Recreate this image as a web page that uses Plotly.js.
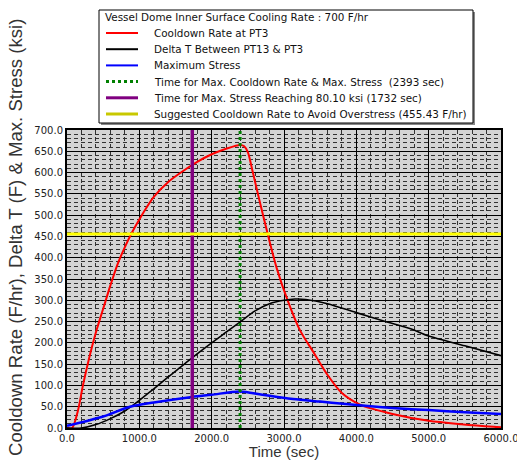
<!DOCTYPE html>
<html>
<head>
<meta charset="utf-8">
<script src="https://cdn.plot.ly/plotly-3.0.1.min.js"></script>
<style>html,body{margin:0;padding:0;background:#fff;}#chart{width:517px;height:460px;}</style>
</head>
<body>
<div id="chart"></div>
<script>
// Cooldown Rate at PT3
var rateTime = [0, 70, 150, 220, 300, 400, 500, 600, 700, 800, 900, 1000, 1100, 1200, 1400, 1600, 1800, 2000, 2200, 2393, 2450, 2500, 2570, 2670, 2780, 2900, 3050, 3220, 3400, 3600, 3800, 4050, 4500, 5000, 5450, 5900, 6000];
var rateVals = [0, 0, 40, 100, 160, 225, 280, 335, 385, 425, 460, 490, 518, 543, 578, 603, 625, 643, 656, 665, 662, 648, 600, 528, 452, 375, 300, 230, 180, 125, 82, 55, 33, 17, 9, 3, 2];
// Delta T Between PT13 & PT3
var deltaTime = [0, 200, 400, 600, 800, 900, 1000, 1200, 1400, 1600, 1730, 2000, 2200, 2400, 2600, 2800, 3000, 3150, 3300, 3600, 4000, 4400, 4750, 5000, 5500, 6000];
var deltaVals = [0, 0, 8, 22, 40, 52, 65, 92, 120, 147, 165, 200, 225, 250, 275, 292, 300, 303, 302, 292, 271, 250, 233, 216, 193, 170];
// Maximum Stress
var stressTime = [0, 500, 870, 1200, 1730, 2000, 2393, 2700, 3125, 3500, 3816, 4200, 4500, 5000, 5500, 6000];
var stressVals = [5, 27, 50, 60, 73, 78, 86, 78, 68, 62, 57, 51, 47, 42, 37, 33];
// Reference markers
var maxRateTime = 2393;
var maxStressTime = 1732;
var suggestedRate = 455.43;
var xRange = [0, 6000];
var yRange = [0, 700];

var legendTitle = "Vessel Dome Inner Surface Cooling Rate : 700 F/hr";
var names = [
  "Cooldown Rate at PT3",
  "Delta T Between PT13 & PT3",
  "Maximum Stress",
  "Time for Max. Cooldown Rate & Max. Stress  (2393 sec)",
  "Time for Max. Stress Reaching 80.10 ksi (1732 sec)",
  "Suggested Cooldown Rate to Avoid Overstress (455.43 F/hr)"
];
var colors = ['#ff0000', '#000000', '#0000ff', '#008000', '#800080', '#ffff00'];
var swatchColors = ['#ff0000', '#000000', '#0000ff', '#008000', '#800080', '#c8c800'];
var dashes = ['solid', 'solid', 'solid', 'dot', 'solid', 'solid'];

var traces = [
  {x: rateTime, y: rateVals, mode: 'lines', name: names[0], line: {color: colors[0], width: 2, shape: 'spline', smoothing: 0.8}},
  {x: deltaTime, y: deltaVals, mode: 'lines', name: names[1], line: {color: colors[1], width: 1.6, shape: 'spline', smoothing: 0.8}},
  {x: stressTime, y: stressVals, mode: 'lines', name: names[2], line: {color: colors[2], width: 2.5, shape: 'spline', smoothing: 0.8}},
  {x: [maxRateTime, maxRateTime], y: yRange, mode: 'lines', name: names[3], line: {color: colors[3], width: 3, dash: 'dot'}},
  {x: [maxStressTime, maxStressTime], y: yRange, mode: 'lines', name: names[4], line: {color: colors[4], width: 3.5}},
  {x: xRange, y: [suggestedRate, suggestedRate], mode: 'lines', name: names[5], line: {color: colors[5], width: 3}}
];

// pixel -> paper helpers (plot area: x 67..501, y 130..428)
function px(x) { return (x - 67) / 434; }
function py(y) { return (428 - y) / 298; }

var legFont = {family: 'DejaVu Sans, Verdana, sans-serif', size: 10.4, color: '#111'};
var shapes = [
  {type: 'rect', xref: 'paper', yref: 'paper', x0: px(101), x1: px(475), y0: py(12), y1: py(125), fillcolor: '#888', line: {width: 0}, layer: 'above'},
  {type: 'rect', xref: 'paper', yref: 'paper', x0: px(99), x1: px(473), y0: py(10), y1: py(123), fillcolor: '#fff', line: {color: '#000', width: 1}, layer: 'above'}
];
var annotations = [
  {xref: 'paper', yref: 'paper', x: px(103), y: py(17), xanchor: 'left', yanchor: 'middle', text: legendTitle, showarrow: false, font: legFont}
];
for (var i = 0; i < names.length; i++) {
  var yy = 33 + i * 16.2;
  shapes.push({type: 'line', xref: 'paper', yref: 'paper', x0: px(106), x1: px(138), y0: py(yy), y1: py(yy),
    line: {color: swatchColors[i], width: i >= 3 ? 3 : 2, dash: dashes[i]}, layer: 'above'});
  annotations.push({xref: 'paper', yref: 'paper', x: px(152), y: py(yy), xanchor: 'left', yanchor: 'middle', text: names[i], showarrow: false, font: legFont});
}
annotations.push({xref: 'paper', yref: 'paper', x: px(15), y: py(238), xanchor: 'center', yanchor: 'middle', textangle: -90,
  text: 'Cooldown Rate (F/hr), Delta T (F) & Max. Stress (ksi)', showarrow: false,
  font: {family: 'Liberation Sans, Arial, sans-serif', size: 18.6, color: '#333'}});

var tickFont = {family: 'DejaVu Sans, Verdana, sans-serif', size: 10, color: '#222'};

var layout = {
  width: 517, height: 460,
  margin: {l: 67, r: 16, t: 130, b: 32},
  paper_bgcolor: '#ffffff',
  plot_bgcolor: '#d4d4d4',
  showlegend: false,
  shapes: shapes,
  annotations: annotations,
  xaxis: {
    range: xRange, dtick: 1000, tick0: 0, tickformat: '.1f',
    showgrid: true, gridcolor: '#000', gridwidth: 1,
    minor: {dtick: 200, showgrid: true, gridcolor: '#333', gridwidth: 1, griddash: '4px,3px'},
    showline: true, linecolor: '#000', linewidth: 2, mirror: true,
    ticks: '', tickfont: tickFont, zeroline: false, ticklabeloverflow: 'allow',
    title: {text: 'Time (sec)', font: {family: 'Liberation Sans, Arial, sans-serif', size: 15, color: '#333'}, standoff: 3},
    automargin: false
  },
  yaxis: {
    range: yRange, dtick: 50, tick0: 0, tickformat: '.1f',
    showgrid: true, gridcolor: '#000', gridwidth: 1,
    minor: {dtick: 10, showgrid: true, gridcolor: '#333', gridwidth: 1, griddash: '4px,3px'},
    showline: true, linecolor: '#000', linewidth: 2, mirror: true,
    ticks: '', tickfont: tickFont, zeroline: false, ticklabeloverflow: 'allow',
    automargin: false
  }
};

Plotly.newPlot('chart', traces, layout, {displayModeBar: false, staticPlot: true});
</script>
</body>
</html>
